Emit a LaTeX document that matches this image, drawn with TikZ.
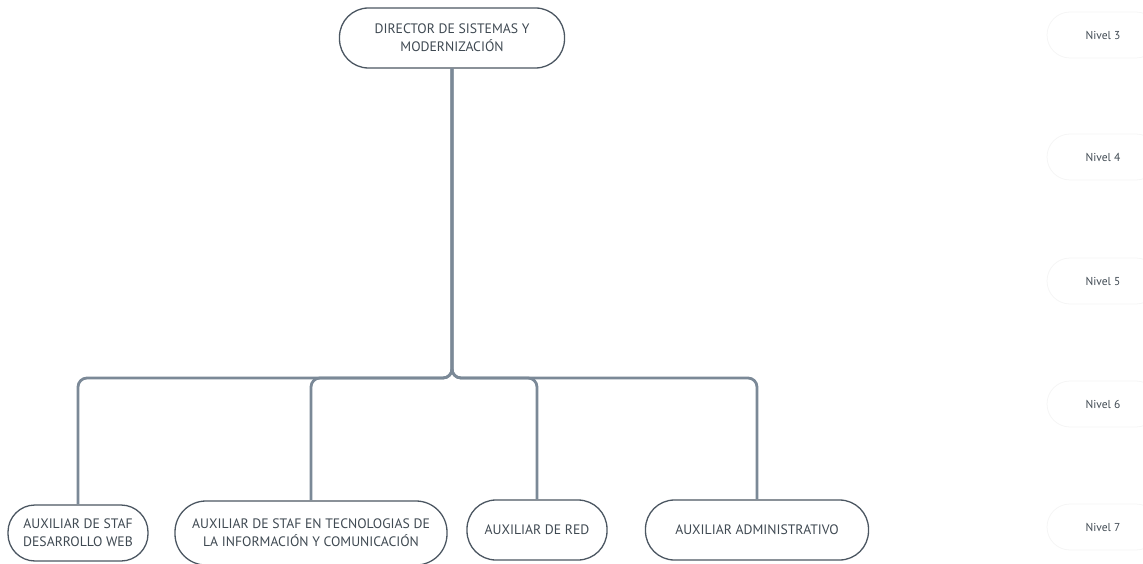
\documentclass[tikz,border=0pt]{standalone}
\usepackage{fontspec}
\setmainfont{PT Sans}
\begin{document}
\begin{tikzpicture}[x=1pt,y=-1pt,
  txt/.style={text=textgray,align=center,inner sep=0pt},
  unit/.style={txt,font=\fontsize{13.7}{18}\selectfont,draw=boxgray,line width=1.3pt,rounded corners=29pt},
  level/.style={txt,font=\fontsize{11.5}{14}\selectfont,draw=black!4,line width=0.8pt,minimum width=112pt,minimum height=46pt,rounded corners=23pt},
  conn/.style={draw=linegray,line width=2.8pt,rounded corners=9pt}]
\definecolor{boxgray}{HTML}{4B5661}
\definecolor{textgray}{HTML}{3F4952}
\definecolor{linegray}{HTML}{7B8997}
\useasboundingbox (0,0) rectangle (1143,564);
% organisational units
\node[unit,minimum width=225pt,minimum height=60pt] (dir) at (452,38) {DIRECTOR DE SISTEMAS Y\\MODERNIZACIÓN};
\node[unit,minimum width=140pt,minimum height=56pt,rounded corners=27pt] (web) at (78,533) {AUXILIAR DE STAF\\DESARROLLO WEB};
\node[unit,minimum width=272pt,minimum height=64pt,rounded corners=31pt] (tic) at (311,533) {AUXILIAR DE STAF EN TECNOLOGIAS DE\\LA INFORMACIÓN Y COMUNICACIÓN};
\node[unit,minimum width=140pt,minimum height=60pt] (red) at (537,530) {AUXILIAR DE RED};
\node[unit,minimum width=223pt,minimum height=60pt] (adm) at (757,530) {AUXILIAR ADMINISTRATIVO};
% hierarchy levels
\node[level] (n3) at (1103,35) {Nivel 3};
\node[level] (n4) at (1103,157) {Nivel 4};
\node[level] (n5) at (1103,281) {Nivel 5};
\node[level] (n6) at (1103,404) {Nivel 6};
\node[level] (n7) at (1103,527) {Nivel 7};
% connectors
\coordinate (bus) at (0,378);
\foreach \c in {web,tic,red,adm}
  \draw[conn] (dir.south) -- (dir.south |- bus) -| (\c.north);
\end{tikzpicture}
\end{document}
